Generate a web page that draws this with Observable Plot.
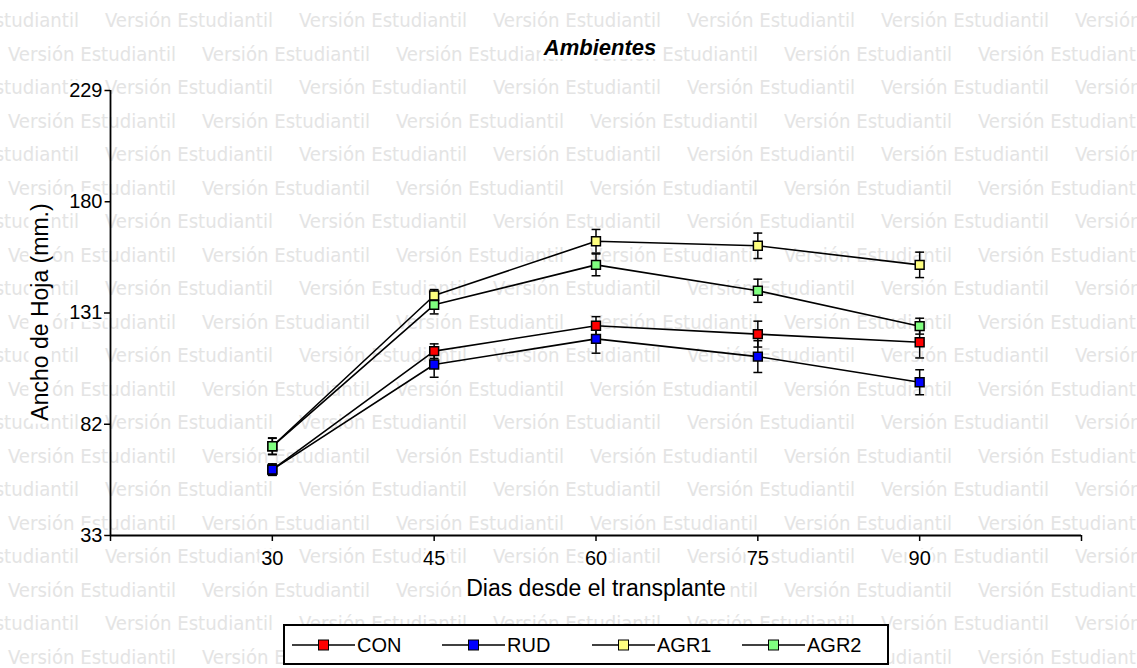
<!DOCTYPE html>
<html>
<head>
<meta charset="utf-8">
<script src="https://cdn.jsdelivr.net/npm/d3@7"></script>
<script src="https://cdn.jsdelivr.net/npm/@observablehq/plot@0.6"></script>
<style>
html, body { margin: 0; padding: 0; background: #fff; }
#wrap { position: relative; width: 1137px; height: 668px; overflow: hidden; font-family: "Liberation Sans", Arial, sans-serif; }
#wm { position: absolute; left: 0; top: 0; }
#wm text { font-family: "DejaVu Sans Condensed", "DejaVu Sans", sans-serif; font-stretch: condensed; font-size: 20px; fill: #e4e4e4; }
#chart { position: absolute; left: 0; top: 0; }
#chart svg { background: transparent !important; }
#chart svg text { paint-order: stroke; stroke: #fff; stroke-width: 6px; stroke-linejoin: round; fill: #000; }
.lbl { position: absolute; white-space: nowrap; color: #000; background: #fff; line-height: 1; padding: 0 3px; }
#title { left: 600px; top: 37px; transform: translateX(-50%); font-size: 22px; font-weight: bold; font-style: italic; }
#xlabel { left: 596px; top: 577px; transform: translateX(-50%); font-size: 23px; }
#ylabel { left: 40px; top: 312px; transform: translate(-50%, -50%) rotate(-90deg); font-size: 23px; }
#legend { position: absolute; left: 283px; top: 624px; width: 606px; height: 41px; box-sizing: border-box; border: 2px solid #000; background: #fff; }
#legend .item { position: absolute; top: 7px; height: 24px; display: flex; align-items: center; font-size: 20px; white-space: nowrap; }
#legend .item span { margin-left: 2px; line-height: 1; }
</style>
</head>
<body>
<div id="wrap">
  <svg id="wm"></svg>
  <div id="chart"></div>
  <div id="title" class="lbl">Ambientes</div>
  <div id="xlabel" class="lbl">Dias desde el transplante</div>
  <div id="ylabel" class="lbl">Ancho de Hoja (mm.)</div>
  <div id="legend"></div>
</div>
<script>
// ---- data ----
const days = [30, 45, 60, 75, 90];
const series = ["CON", "RUD", "AGR1", "AGR2"];
const colors = ["#ff0000", "#0000ff", "#ffff80", "#80ff80"];
const conMean  = [62.0, 114.2, 125.4, 121.7, 118.1];
const conErr   = [2.5, 3.2, 4.0, 5.7, 6.9];
const rudMean  = [62.0, 108.3, 119.6, 111.8, 100.5];
const rudErr   = [2.5, 5.6, 6.3, 7.0, 5.5];
const agr1Mean = [72.3, 138.7, 162.6, 160.6, 152.2];
const agr1Err  = [3.5, 2.6, 5.2, 5.6, 5.6];
const agr2Mean = [72.3, 134.6, 152.2, 140.8, 125.2];
const agr2Err  = [3.7, 4.0, 4.8, 5.1, 3.5];
const yTicks = [33, 82, 131, 180, 229];
const xTicks = [30, 45, 60, 75, 90];
const xDomain = [15, 105];
const yDomain = [33, 229];
const watermark = "Versión Estudiantil";

const means = [conMean, rudMean, agr1Mean, agr2Mean];
const errs = [conErr, rudErr, agr1Err, agr2Err];
const rows = [];
series.forEach((s, i) => days.forEach((d, j) => rows.push({series: s, day: d, mean: means[i][j], err: errs[i][j]})));

// ---- watermark background ----
const wm = d3.select("#wm").attr("width", 1137).attr("height", 668);
for (let i = 0; i < 20; i++) {
  const y = 20 + i * 33.5;
  const x0 = i % 2 === 0 ? -89 : 8;
  for (let x = x0; x < 1137; x += 194) {
    wm.append("text").attr("x", x).attr("y", y).attr("dy", "0.36em")
      .attr("textLength", 168).attr("lengthAdjust", "spacingAndGlyphs").text(watermark);
  }
}

// ---- chart ----
const capSymbol = {draw(ctx, size) { const r = Math.sqrt(size) / 2; ctx.moveTo(-r, 0); ctx.lineTo(r, 0); }};
const colorOf = Object.fromEntries(series.map((s, i) => [s, colors[i]]));

const chart = Plot.plot({
  width: 1137,
  height: 668,
  marginLeft: 110,
  marginRight: 56,
  marginTop: 90,
  marginBottom: 133,
  style: {fontFamily: '"Liberation Sans", Arial, sans-serif', fontSize: "20px", background: "transparent", color: "#000"},
  x: {domain: xDomain},
  y: {domain: yDomain},
  marks: [
    Plot.ruleX([xDomain[0]], {stroke: "#000", strokeWidth: 1.8}),
    Plot.ruleY([yDomain[0]], {stroke: "#000", strokeWidth: 1.8}),
    Plot.axisY(yTicks, {tickSize: 6, tickPadding: 2, strokeWidth: 1.5, label: null, tickFormat: d => String(d)}),
    Plot.axisX([xDomain[0], ...xTicks, xDomain[1]], {tickSize: 6, tickPadding: 9, strokeWidth: 1.5, label: null,
      tickFormat: d => xTicks.includes(d) ? String(d) : ""}),
    Plot.line(rows, {x: "day", y: "mean", z: "series", stroke: "#000", strokeWidth: 1.6}),
    Plot.ruleX(rows, {x: "day", y1: d => d.mean - d.err, y2: d => d.mean + d.err, stroke: "#000", strokeWidth: 1.5}),
    Plot.dot(rows, {x: "day", y: d => d.mean + d.err, symbol: capSymbol, r: 5, stroke: "#000", strokeWidth: 1.5}),
    Plot.dot(rows, {x: "day", y: d => d.mean - d.err, symbol: capSymbol, r: 5, stroke: "#000", strokeWidth: 1.5}),
    Plot.dot(rows, {x: "day", y: "mean", symbol: "square", r: 5, fill: d => colorOf[d.series], stroke: "#000", strokeWidth: 1.5})
  ]
});
document.getElementById("chart").appendChild(chart);

// ---- legend ----
const leg = d3.select("#legend");
series.forEach((s, i) => {
  const item = leg.append("div").attr("class", "item").style("left", (7 + 150 * i) + "px");
  const sv = item.append("svg").attr("width", 63).attr("height", 14);
  sv.append("line").attr("x1", 0).attr("x2", 63).attr("y1", 7).attr("y2", 7).attr("stroke", "#000").attr("stroke-width", 1.5);
  sv.append("rect").attr("x", 26.5).attr("y", 2).attr("width", 10).attr("height", 10)
    .attr("fill", colors[i]).attr("stroke", "#000").attr("stroke-width", 1);
  item.append("span").text(s);
});
</script>
</body>
</html>
